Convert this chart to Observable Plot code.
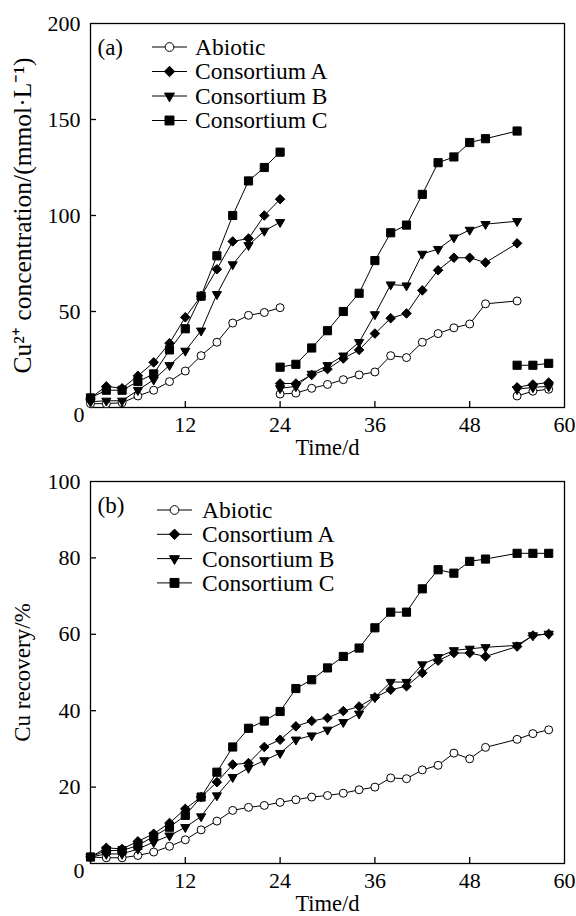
<!DOCTYPE html>
<html><head><meta charset="utf-8">
<script src="https://cdn.jsdelivr.net/npm/d3@7"></script>
<script src="https://cdn.jsdelivr.net/npm/@observablehq/plot@0.6"></script>
<style>
body{margin:0;background:#fff;}
#chart{width:576px;}
svg{display:block;}
</style></head><body><div id="chart"></div>
<script>
// ---------- Data ----------
const seriesNames = ["Abiotic", "Consortium A", "Consortium B", "Consortium C"];
const xTicks = [12, 24, 36, 48, 60];
const aYTicks = [0, 50, 100, 150, 200];
const bYTicks = [0, 20, 40, 60, 80, 100];

// Panel (a): Cu2+ concentration, three leaching cycles
const aDays1 = [0, 2, 4, 6, 8, 10, 12, 14, 16, 18, 20, 22, 24];
const aAbiotic1 = [2, 2, 2.5, 6, 9, 13.5, 19, 27, 34, 44, 48, 49.5, 52];
const aConA1 = [5, 11, 10, 16.5, 23.5, 33.5, 47, 58, 72, 86.5, 88, 100, 108.5];
const aConB1 = [3, 3.5, 3.5, 9, 14.5, 22, 29.5, 40, 59, 74.5, 84.5, 92, 96.5];
const aConC1 = [5, 9, 9, 13.5, 17.5, 30, 41, 58, 79, 100, 118, 125, 133];

const aDays2 = [24, 26, 28, 30, 32, 34, 36, 38, 40, 42, 44, 46, 48, 50, 54];
const aAbiotic2 = [7, 7.5, 10, 12, 14.5, 17, 18.5, 27, 26, 34, 38.5, 41.5, 43.5, 54, 55.5];
const aConA2 = [12.5, 12.5, 17, 20, 25.5, 30, 38.5, 46.5, 49, 61, 71.5, 78, 78, 75.5, 85.5];
const aConB2 = [10, 11, 17.5, 22, 27, 34, 48.5, 64, 63.5, 80, 82.5, 88.5, 92.5, 95.5, 97];
const aConC2 = [21, 22.5, 31, 40, 50, 59.5, 76.5, 91, 95, 111, 127.5, 130.5, 138, 140, 144];

const aDays3 = [54, 56, 58];
const aAbiotic3 = [6, 8.5, 9.5];
const aConA3 = [10.5, 12, 13];
const aConB3 = [9.5, 10.5, 11];
const aConC3 = [22, 22, 23];

// Panel (b): Cu recovery
const bDays = [0, 2, 4, 6, 8, 10, 12, 14, 16, 18, 20, 22, 24, 26, 28, 30, 32, 34, 36, 38, 40, 42, 44, 46, 48, 50, 54, 56, 58];
const bAbiotic = [1.7, 1.5, 1.5, 2.1, 3, 4.5, 6.2, 8.8, 11.1, 13.9, 14.7, 15.2, 16, 16.7, 17.4, 17.8, 18.4, 19.3, 20, 22.4, 22.2, 24.5, 25.7, 28.9, 27.4, 30.4, 32.5, 34, 35];
const bConA = [1.7, 4.1, 3.8, 5.8, 7.8, 10.6, 14.3, 17.4, 21.3, 25.9, 26.3, 30.5, 32.4, 35.9, 37.3, 38.1, 39.9, 41.1, 43.5, 45.5, 46.4, 49.9, 53.1, 55.1, 55.1, 54.2, 56.8, 59.7, 60.1];
const bConB = [1.7, 2.5, 2.5, 3.8, 5.6, 7.3, 9.5, 12.3, 17.8, 22.6, 25, 27, 28.9, 32.4, 33.5, 35, 37, 39.2, 43.5, 47.5, 47.5, 52.1, 54, 55.8, 56.2, 56.6, 57.1, 59.7, 60.1];
const bConC = [1.7, 3.4, 3.4, 4.7, 7.1, 9.5, 12.6, 17.4, 23.9, 30.5, 35.4, 37.3, 39.8, 45.8, 48.1, 51.2, 54.2, 56.4, 61.7, 65.8, 65.8, 71.9, 76.9, 76, 79.1, 79.7, 81.2, 81.2, 81.2];

// ---------- Build tables ----------
function rowsFrom(days, values, series, seg) {
  return days.map((d, i) => ({day: d, value: values[i], series, key: series + "|" + seg}));
}
const aRows = [
  ...rowsFrom(aDays1, aAbiotic1, "Abiotic", 1), ...rowsFrom(aDays1, aConA1, "Consortium A", 1),
  ...rowsFrom(aDays1, aConB1, "Consortium B", 1), ...rowsFrom(aDays1, aConC1, "Consortium C", 1),
  ...rowsFrom(aDays2, aAbiotic2, "Abiotic", 2), ...rowsFrom(aDays2, aConA2, "Consortium A", 2),
  ...rowsFrom(aDays2, aConB2, "Consortium B", 2), ...rowsFrom(aDays2, aConC2, "Consortium C", 2),
  ...rowsFrom(aDays3, aAbiotic3, "Abiotic", 3), ...rowsFrom(aDays3, aConA3, "Consortium A", 3),
  ...rowsFrom(aDays3, aConB3, "Consortium B", 3), ...rowsFrom(aDays3, aConC3, "Consortium C", 3)
];
const bRows = [
  ...rowsFrom(bDays, bAbiotic, "Abiotic", 1), ...rowsFrom(bDays, bConA, "Consortium A", 1),
  ...rowsFrom(bDays, bConB, "Consortium B", 1), ...rowsFrom(bDays, bConC, "Consortium C", 1)
];

const FONT = "'Liberation Serif', 'Times New Roman', Times, serif";
const styleBySeries = {
  "Abiotic": {symbol: "circle", r: 4, fill: "#fff", rotate: 0},
  "Consortium A": {symbol: "diamond2", r: 4.3, fill: "#000", rotate: 0},
  "Consortium B": {symbol: "triangle", r: 3.4, fill: "#000", rotate: 180},
  "Consortium C": {symbol: "square", r: 4.6, fill: "#000", rotate: 0}
};

function dotMarks(rows) {
  return seriesNames.map(s => {
    const st = styleBySeries[s];
    return Plot.dot(rows.filter(d => d.series === s), {
      x: "day", y: "value", symbol: st.symbol, r: st.r, fill: st.fill,
      stroke: "#000", strokeWidth: 1, rotate: st.rotate
    });
  });
}

function panel({rows, yDomain, yTicks, height, marginTop, marginBottom, yTitle, yTitleSize, tag}) {
  return Plot.plot({
    width: 576, height, marginLeft: 90, marginRight: 12, marginTop, marginBottom,
    style: {fontFamily: FONT, fontSize: "22px", color: "#000", background: "#fff", overflow: "visible"},
    x: {domain: [0, 60]},
    y: {domain: yDomain},
    marks: [
      Plot.frame({stroke: "#000", strokeWidth: 1.3}),
      Plot.axisX({ticks: xTicks.slice(0, -1), tickSize: -6, tickFormat: () => "", label: null, strokeWidth: 1.3}),
      Plot.axisX({ticks: xTicks, tickSize: 0, tickPadding: 9, fontSize: 22, fontFamily: FONT, label: null}),
      Plot.axisY({ticks: yTicks.slice(1, -1), tickSize: -6, tickFormat: () => "", label: null, strokeWidth: 1.3}),
      Plot.axisY({ticks: yTicks.slice(1), tickSize: 0, tickPadding: 10, fontSize: 22, fontFamily: FONT, label: null}),
      Plot.axisY({ticks: [0], tickSize: 0, tickPadding: 6, dy: 7, fontSize: 22, fontFamily: FONT, label: null}),
      Plot.line(rows, {x: "day", y: "value", z: "key", stroke: "#000", strokeWidth: 1}),
      ...dotMarks(rows),
      Plot.text(["Time/d"], {text: d => d, frameAnchor: "bottom", dy: 40, lineAnchor: "middle", textAnchor: "middle", fontSize: 22.5, fontFamily: FONT}),
      Plot.text([yTitle], {text: d => d, frameAnchor: "left", dx: -68, rotate: -90, textAnchor: "middle", lineAnchor: "middle", fontSize: yTitleSize, fontFamily: FONT}),
      Plot.text([tag], {text: d => d, frameAnchor: "top-left", dx: 7, dy: 24, textAnchor: "start", lineAnchor: "middle", fontSize: 23, fontFamily: FONT})
    ]
  });
}

function addLegend(svgEl, {x1, x2, xText, yStart, step}) {
  const g = d3.select(svgEl).append("g")
    .style("font-family", FONT).style("font-size", "23.5px").attr("fill", "#000")
    .attr("text-anchor", "start");
  const sym = {circle: d3.symbolCircle, diamond2: d3.symbolDiamond2, triangle: d3.symbolTriangle, square: d3.symbolSquare};
  seriesNames.forEach((s, i) => {
    const y = yStart + i * step;
    const st = styleBySeries[s];
    g.append("line").attr("x1", x1).attr("x2", x2).attr("y1", y).attr("y2", y)
      .attr("stroke", "#000").attr("stroke-width", 1);
    g.append("path")
      .attr("transform", `translate(${(x1 + x2) / 2},${y}) rotate(${st.rotate})`)
      .attr("d", d3.symbol(sym[st.symbol], Math.PI * st.r * st.r * 1.2)())
      .attr("fill", st.fill).attr("stroke", "#000").attr("stroke-width", 1);
    g.append("text").attr("x", xText).attr("y", y).attr("dy", "0.34em")
      .attr("text-anchor", "start").text(s);
  });
}

const chartA = panel({
  rows: aRows, yDomain: [0, 200], yTicks: aYTicks, height: 458, marginTop: 23, marginBottom: 51,
  yTitle: "Cu²⁺ concentration/(mmol·L⁻¹)", yTitleSize: 25.5, tag: "(a)"
});
addLegend(chartA, {x1: 152, x2: 187, xText: 195, yStart: 47, step: 24.5});

const chartB = panel({
  rows: bRows, yDomain: [0, 100], yTicks: bYTicks, height: 458, marginTop: 23, marginBottom: 53,
  yTitle: "Cu recovery/%", yTitleSize: 23, tag: "(b)"
});
addLegend(chartB, {x1: 157, x2: 192, xText: 202, yStart: 52, step: 24.3});

document.getElementById("chart").append(chartA, chartB);
</script>
</body></html>
